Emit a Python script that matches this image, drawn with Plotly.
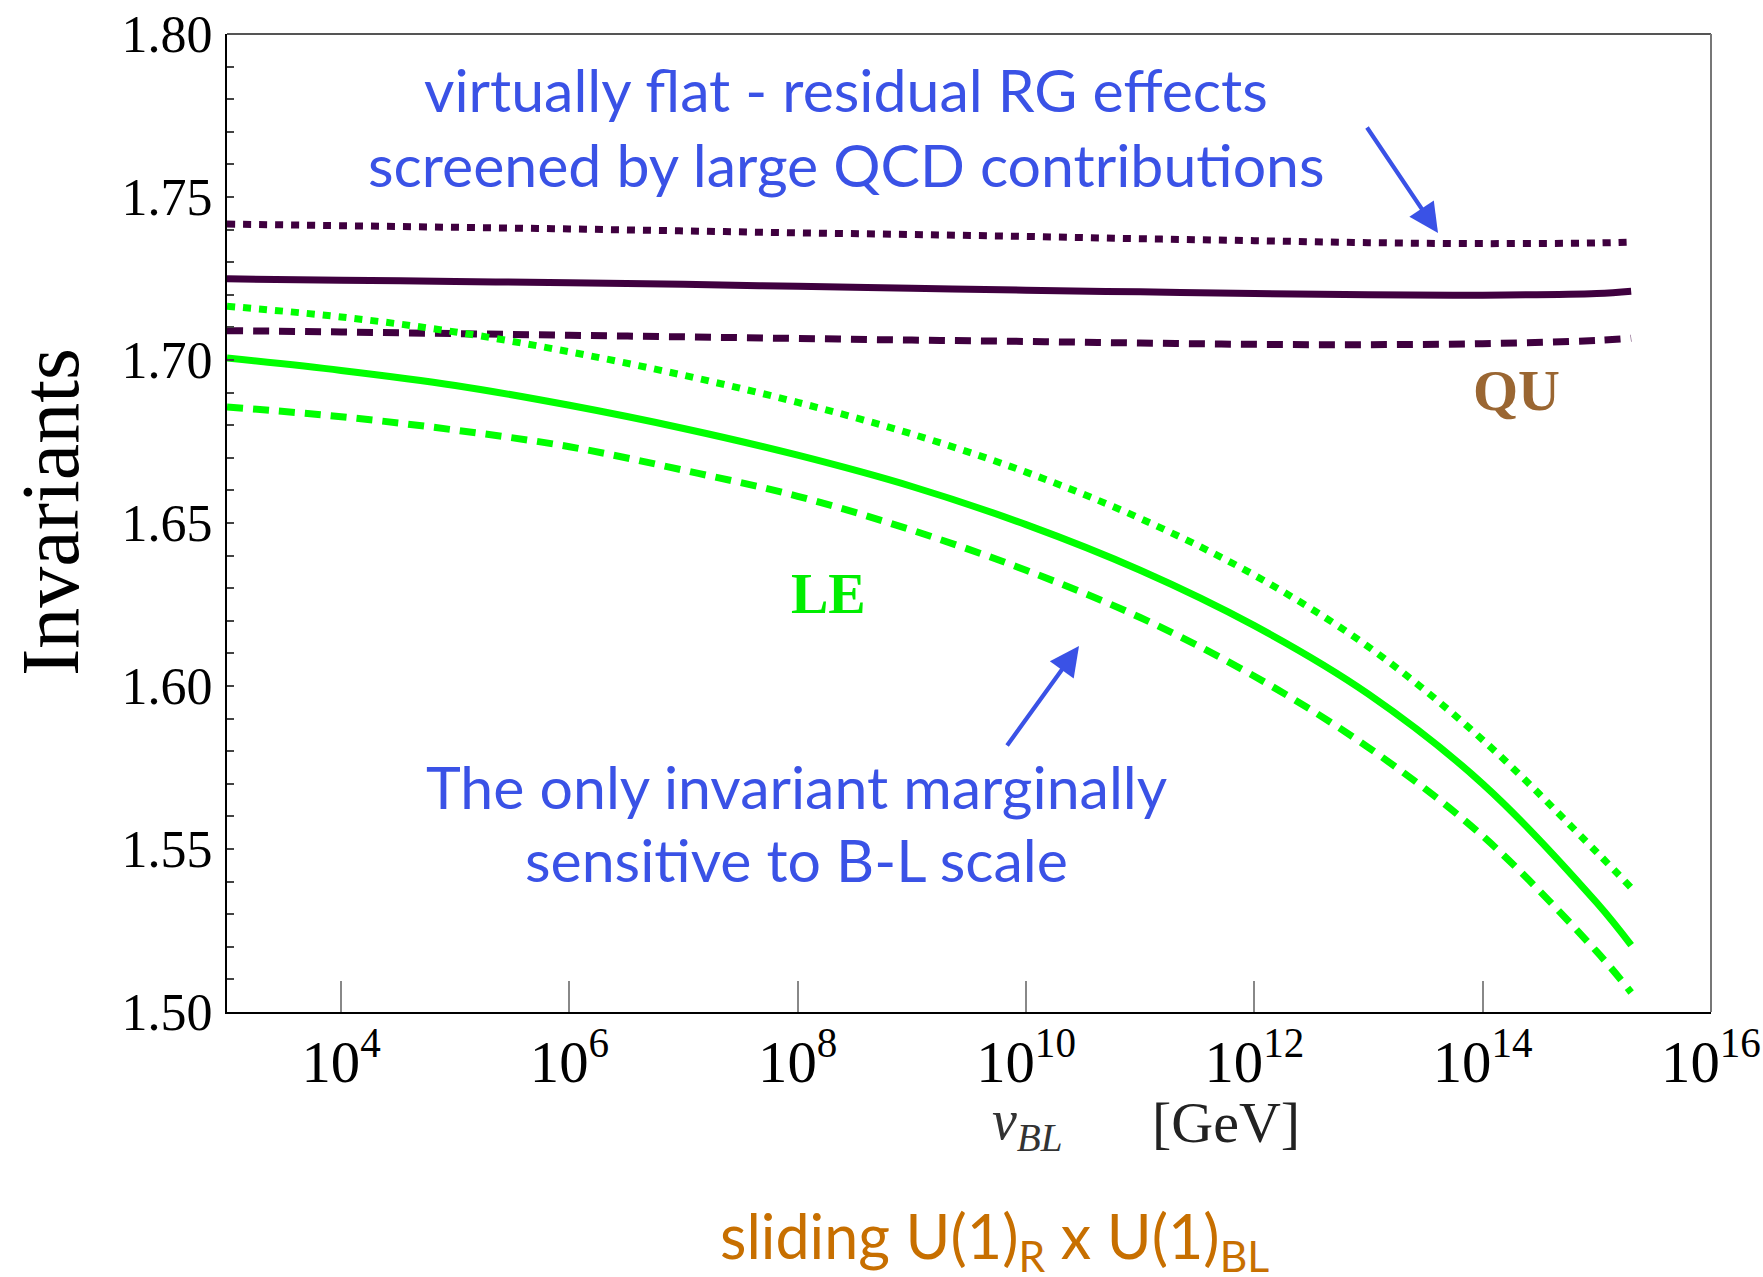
import plotly.graph_objects as go

# ---------------- data ----------------
v_bl = [1e3, 1e4, 1e5, 1e6, 1e7, 1e8, 1e9, 1e10, 1e11, 1e12, 1e13, 1e14, 1e15, 2e15]

qu_solid = [1.7249, 1.7245, 1.7241, 1.7237, 1.7232, 1.7226, 1.7220, 1.7214,
            1.7209, 1.7204, 1.7200, 1.7199, 1.7204, 1.7211]
qu_dotted = [1.7417, 1.7412, 1.7407, 1.7402, 1.7396, 1.7390, 1.7385, 1.7379,
             1.7372, 1.7366, 1.7360, 1.7357, 1.7359, 1.7362]
qu_dashed = [1.7090, 1.7086, 1.7081, 1.7076, 1.7071, 1.7066, 1.7061, 1.7057,
             1.7052, 1.7048, 1.7047, 1.7050, 1.7060, 1.7067]

le_solid = [1.7006, 1.6968, 1.6922, 1.6861, 1.6790, 1.6708, 1.6612, 1.6495,
            1.6355, 1.6185, 1.5975, 1.5700, 1.5335, 1.5205]
le_dotted = [1.7165, 1.7132, 1.7086, 1.7025, 1.6953, 1.6870, 1.6773, 1.6656,
             1.6514, 1.6340, 1.6120, 1.5835, 1.5490, 1.5381]
le_dashed = [1.6856, 1.6826, 1.6785, 1.6734, 1.6662, 1.6582, 1.6478, 1.6355,
             1.6210, 1.6030, 1.5811, 1.5540, 1.5185, 1.5060]

y_ticks = [1.50, 1.55, 1.60, 1.65, 1.70, 1.75, 1.80]

# ---------------- styling ----------------
W, H = 1763, 1277
L, R, T, B = 227, 1711, 34, 1012
QU_COL = "#3f003f"
LE_COL = "#00ff00"
BLUE = "#3a52e6"
SERIF = "Liberation Serif"
SANS = "Lato"


def px(x):
    return (x - L) / (R - L)


def py(y):
    return (B - y) / (B - T)


fig = go.Figure()

styles = [
    (qu_dotted, QU_COL, "8px,8px"),
    (qu_solid, QU_COL, "solid"),
    (qu_dashed, QU_COL, "16px,10px"),
    (le_dotted, LE_COL, "8px,8px"),
    (le_solid, LE_COL, "solid"),
    (le_dashed, LE_COL, "16px,10px"),
]
for ys, col, dash in styles:
    fig.add_trace(go.Scatter(x=v_bl, y=ys, mode="lines",
                             line=dict(color=col, width=7, dash=dash,
                                       shape="spline", smoothing=1.0),
                             showlegend=False, hoverinfo="skip"))

fig.update_layout(
    width=W, height=H,
    margin=dict(l=L, r=W - R, t=T, b=H - B, autoexpand=False),
    paper_bgcolor="white", plot_bgcolor="white",
    showlegend=False,
)

fig.update_xaxes(
    type="log", range=[3, 16.0005], dtick=2, tick0=0,
    exponentformat="power", showexponent="all",
    showgrid=False, zeroline=False, automargin=False,
    showline=True, linecolor="black", linewidth=2,
    ticks="inside", ticklen=31, tickwidth=2, tickcolor="#888888",
    tickfont=dict(family=SERIF, size=47, color="black"),
    ticklabelstandoff=0,
)
fig.update_yaxes(
    range=[1.50, 1.80], tickvals=y_ticks,
    ticktext=[f"{v:.2f}" for v in y_ticks],
    showgrid=False, zeroline=False, automargin=False,
    showline=True, linecolor="black", linewidth=2,
    ticks="inside", ticklen=7, tickwidth=2, tickcolor="#444444",
    tickfont=dict(family=SERIF, size=52, color="black"),
    ticklabelstandoff=2,
    minor=dict(dtick=0.01, ticks="inside", ticklen=7, tickwidth=2,
               tickcolor="#444444", showgrid=False),
)

# gray top/right frame
fig.add_shape(type="line", xref="paper", yref="paper", x0=0, x1=1, y0=1, y1=1,
              line=dict(color="#555555", width=2))
fig.add_shape(type="line", xref="paper", yref="paper", x0=1, x1=1, y0=0, y1=1,
              line=dict(color="#777777", width=2))


def text(t, x, y, size, color, family, xanchor="center", yanchor="middle", angle=0):
    fig.add_annotation(text=t, xref="paper", yref="paper", x=px(x), y=py(y),
                       showarrow=False, xanchor=xanchor, yanchor=yanchor,
                       textangle=angle,
                       font=dict(family=family, size=size, color=color))


# annotations inside plot
text("virtually flat - residual RG effects", 846, 90, 59, BLUE, SANS)
text("screened by large QCD contributions", 846, 165, 59, BLUE, SANS)
text("The only invariant marginally", 796, 786, 59, BLUE, SANS)
text("sensitive to B-L scale", 796, 860, 59, BLUE, SANS)
text("<b>QU</b>", 1516, 390, 58, "#9a6632", SERIF)
text("<b>LE</b>", 828, 594, 56, "#00ee00", SERIF)

# arrows
for (tx, ty, sx, sy) in [(1438, 233, 1366, 126), (1079, 646, 1006, 747)]:
    fig.add_annotation(x=px(tx), y=py(ty), xref="paper", yref="paper",
                       ax=sx - tx, ay=sy - ty, text="", showarrow=True,
                       arrowhead=2, arrowsize=1.4, arrowwidth=4.2,
                       arrowcolor=BLUE, standoff=0)

# axis titles
text("Invariants", 50, 512, 82, "black", SERIF, angle=-90)
text("<i>v</i><sub><i>BL</i></sub>", 990, 1124, 56, "#333333", SERIF, xanchor="left")
text("[GeV]", 1150, 1122, 58, "#222222", SERIF, xanchor="left")

# bottom caption
text("sliding U(1)<sub>R</sub> x U(1)<sub>BL</sub>", 994, 1240, 61, "#c76f00", SANS)

fig.write_html("out.html")
